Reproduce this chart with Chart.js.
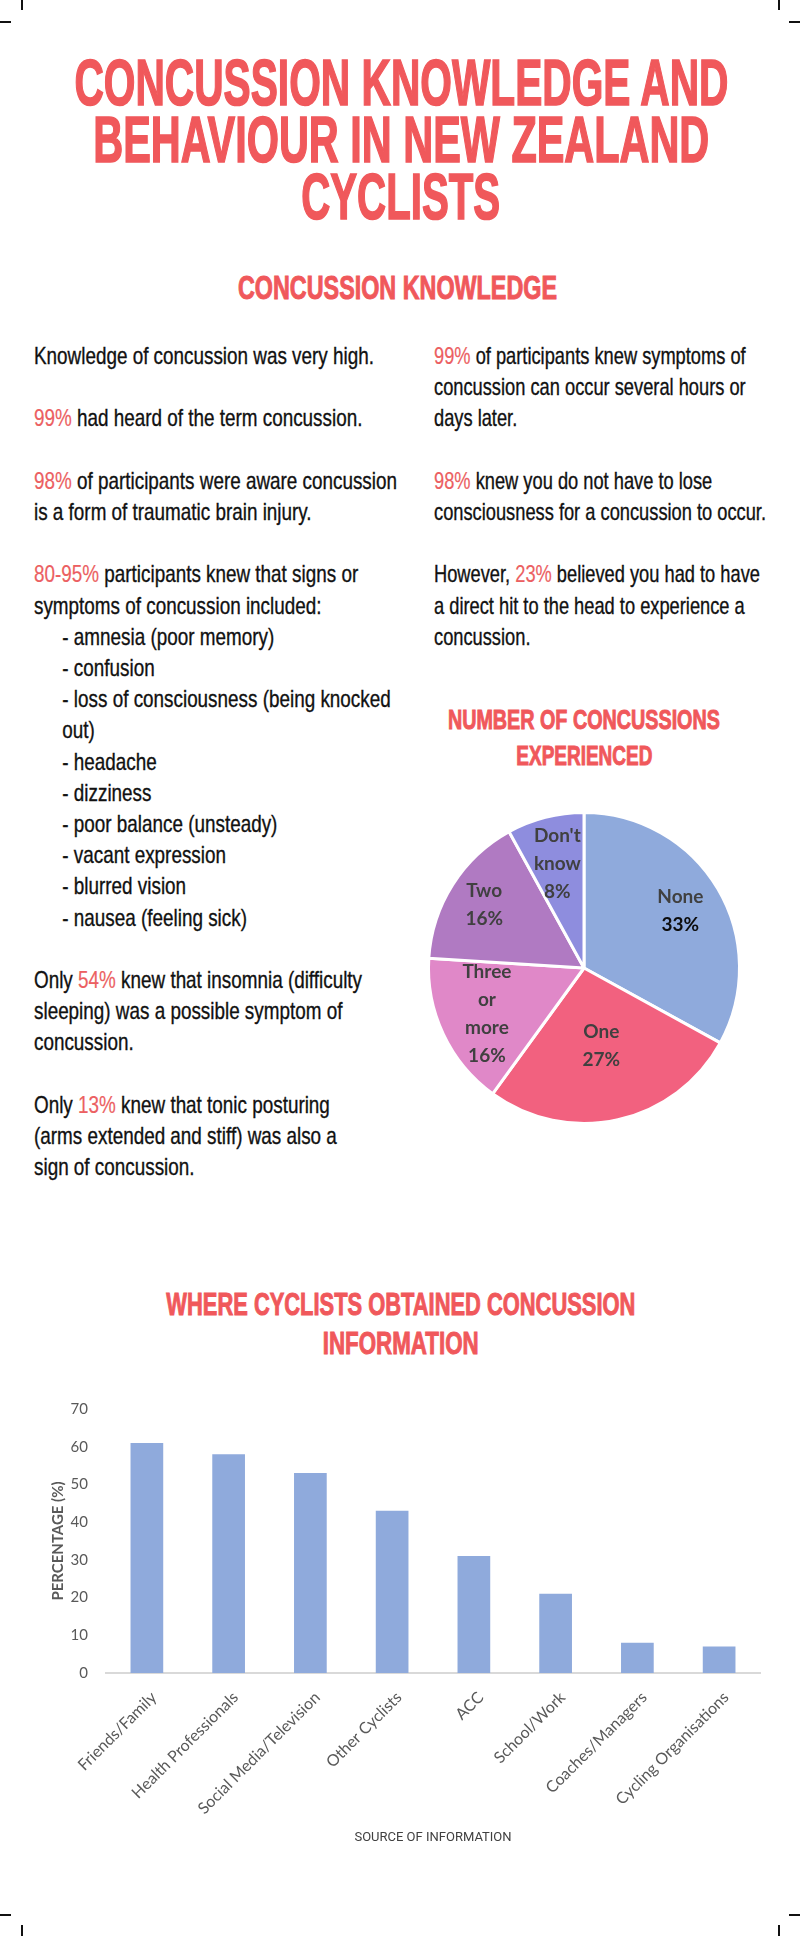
<!DOCTYPE html>
<html>
<head>
<meta charset="utf-8">
<script src="https://cdn.jsdelivr.net/npm/chart.js@4.4.0/dist/chart.umd.min.js"></script>
<style>
  body { margin: 0; width: 800px; height: 1936px; position: relative; background: #fff; overflow: hidden; }
  .mark { position: absolute; background: #111; }
  .head { position: absolute; width: 1600px; text-align: center; font-family: "Liberation Sans", Arial, sans-serif; font-weight: bold; color: #F0585B; white-space: nowrap; -webkit-text-stroke: 1px #F0585B; }
  .head.big { -webkit-text-stroke: 1.6px #F0585B; }
  .head span { display: inline-block; transform-origin: center; }
  .col { position: absolute; font-family: "Liberation Sans", Arial, sans-serif; font-size: 24px; line-height: 31.2px; color: #111; white-space: nowrap; transform-origin: 0 0; -webkit-text-stroke: 0.35px #111; }
  .col .hl { color: #EC5F62; -webkit-text-stroke: 0.2px #EC5F62; }
  .col .li { padding-left: 36px; }
  canvas { position: absolute; }
</style>
</head>
<body>

<div class="mark" style="left:21px;top:0;width:2px;height:10px"></div>
<div class="mark" style="left:0;top:21px;width:11px;height:2px"></div>
<div class="mark" style="left:778px;top:0;width:2px;height:10px"></div>
<div class="mark" style="left:789px;top:21px;width:11px;height:2px"></div>
<div class="mark" style="left:0;top:1914px;width:11px;height:2px"></div>
<div class="mark" style="left:21px;top:1925px;width:2px;height:11px"></div>
<div class="mark" style="left:789px;top:1914px;width:11px;height:2px"></div>
<div class="mark" style="left:778px;top:1925px;width:2px;height:11px"></div>

<div class="head big" style="left:-399px;top:54px;font-size:65px;line-height:57px">
  <div><span data-w="654">CONCUSSION KNOWLEDGE AND</span></div>
  <div><span data-w="616">BEHAVIOUR IN NEW ZEALAND</span></div>
  <div><span data-w="199">CYCLISTS</span></div>
</div>

<div class="head" style="left:-402px;top:268px;font-size:33px;line-height:40px">
  <div><span data-w="319">CONCUSSION KNOWLEDGE</span></div>
</div>

<div class="col" style="left:34px;top:340px" data-w="363" data-ref="refL">
  <div>Knowledge of concussion was very high.</div>
  <div>&nbsp;</div>
  <div><span class="hl">99%</span> had heard of the term concussion.</div>
  <div>&nbsp;</div>
  <div><span id="refL"><span class="hl">98%</span> of participants were aware concussion</span></div>
  <div>is a form of traumatic brain injury.</div>
  <div>&nbsp;</div>
  <div><span class="hl">80-95%</span> participants knew that signs or</div>
  <div>symptoms of concussion included:</div>
  <div class="li">- amnesia (poor memory)</div>
  <div class="li">- confusion</div>
  <div class="li">- loss of consciousness (being knocked</div>
  <div class="li">out)</div>
  <div class="li">- headache</div>
  <div class="li">- dizziness</div>
  <div class="li">- poor balance (unsteady)</div>
  <div class="li">- vacant expression</div>
  <div class="li">- blurred vision</div>
  <div class="li">- nausea (feeling sick)</div>
  <div>&nbsp;</div>
  <div>Only <span class="hl">54%</span> knew that insomnia (difficulty</div>
  <div>sleeping) was a possible symptom of</div>
  <div>concussion.</div>
  <div>&nbsp;</div>
  <div>Only <span class="hl">13%</span> knew that tonic posturing</div>
  <div>(arms extended and stiff) was also a</div>
  <div>sign of concussion.</div>
</div>

<div class="col" style="left:434px;top:340px" data-w="332" data-ref="refR">
  <div><span class="hl">99%</span> of participants knew symptoms of</div>
  <div>concussion can occur several hours or</div>
  <div>days later.</div>
  <div>&nbsp;</div>
  <div><span class="hl">98%</span> knew you do not have to lose</div>
  <div><span id="refR">consciousness for a concussion to occur.</span></div>
  <div>&nbsp;</div>
  <div>However, <span class="hl">23%</span> believed you had to have</div>
  <div>a direct hit to the head to experience a</div>
  <div>concussion.</div>
</div>

<div class="head" style="left:-216px;top:702px;font-size:28px;line-height:36px">
  <div><span data-w="272">NUMBER OF CONCUSSIONS</span></div>
  <div><span data-w="136">EXPERIENCED</span></div>
</div>

<canvas id="pie" width="340" height="340" style="left:414px;top:798px"></canvas>

<div class="head" style="left:-399px;top:1285px;font-size:32px;line-height:39px">
  <div><span data-w="469">WHERE CYCLISTS OBTAINED CONCUSSION</span></div>
  <div><span data-w="156">INFORMATION</span></div>
</div>

<canvas id="bar" width="750" height="468" style="left:30px;top:1382px"></canvas>

<script>
// squeeze headings and text columns to the widths of the condensed poster font
document.querySelectorAll(".head [data-w]").forEach(el => {
  const w = el.getBoundingClientRect().width;
  el.style.transform = `scaleX(${el.dataset.w / w})`;
});
document.querySelectorAll(".col").forEach(col => {
  const w = document.getElementById(col.dataset.ref).getBoundingClientRect().width;
  col.style.transform = `scaleX(${col.dataset.w / w})`;
});

// pie: number of concussions experienced
const pieCategories = ["None", "One", "Three or more", "Two", "Don't know"];
const pieValues = [33, 27, 16, 16, 8];
const pieColors = ["#8FAADC", "#F2617F", "#E088C8", "#B07AC2", "#8E8DDE"];
const pieLabelRadius = [0.72, 0.51, 0.69, 0.76, 0.69];
const pieValueColors = ["#0D0D0D", "#404040", "#404040", "#404040", "#404040"];

// bar: where cyclists obtained concussion information
const sources = ["Friends/Family", "Health Professionals", "Social Media/Television", "Other Cyclists",
  "ACC", "School/Work", "Coaches/Managers", "Cycling Organisations"];
const sourcePercent = [61, 58, 53, 43, 31, 21, 8, 7];
const yTicks = [0, 70, 10]; // min, max, step

const pieLabels = {
  id: "pieLabels",
  afterDatasetsDraw(chart) {
    const ctx = chart.ctx;
    const meta = chart.getDatasetMeta(0);
    ctx.save();
    ctx.font = "bold 19px Lato";
    ctx.textAlign = "center";
    ctx.textBaseline = "middle";
    meta.data.forEach((arc, i) => {
      const mid = (arc.startAngle + arc.endAngle) / 2;
      const r = arc.outerRadius * pieLabelRadius[i];
      const x = arc.x + Math.cos(mid) * r;
      const y = arc.y + Math.sin(mid) * r;
      const lines = pieCategories[i].split(" ");
      lines.push(pieValues[i] + "%");
      const lh = 28;
      let top = y - (lines.length - 1) * lh / 2;
      lines.forEach((t, j) => {
        ctx.fillStyle = j === lines.length - 1 ? pieValueColors[i] : "#404040";
        ctx.fillText(t, x, top + j * lh);
      });
    });
    ctx.restore();
  }
};

new Chart(document.getElementById("pie"), {
  type: "pie",
  data: {
    labels: pieCategories,
    datasets: [{
      data: pieValues,
      backgroundColor: pieColors,
      borderColor: "#fff",
      borderWidth: 3
    }]
  },
  options: {
    responsive: false,
    animation: false,
    layout: { padding: 13 },
    plugins: { legend: { display: false }, tooltip: { enabled: false } }
  },
  plugins: [pieLabels]
});

new Chart(document.getElementById("bar"), {
  type: "bar",
  data: {
    labels: sources,
    datasets: [{
      data: sourcePercent,
      backgroundColor: "#8FAADC",
      categoryPercentage: 1,
      barPercentage: 0.4
    }]
  },
  options: {
    responsive: false,
    animation: false,
    layout: { padding: { top: 0, right: 20, left: 0, bottom: 0 } },
    plugins: { legend: { display: false }, tooltip: { enabled: false } },
    scales: {
      x: {
        grid: { display: false, drawTicks: false },
        border: { display: true, color: "#D9D9D9", width: 2 },
        ticks: {
          minRotation: 45, maxRotation: 45, autoSkip: false, padding: 15, labelOffset: 7,
          font: { family: "Lato", size: 16 }, color: "#595959"
        },
        title: {
          display: true, text: "SOURCE OF INFORMATION",
          font: { family: "Roboto", size: 13 }, color: "#404040",
          padding: { top: 4, bottom: 4 }
        },
        afterFit: s => { s.height = 177; }
      },
      y: {
        min: yTicks[0], max: yTicks[1],
        grid: { display: false, drawTicks: false },
        border: { display: false },
        ticks: { stepSize: yTicks[2], padding: 18, font: { family: "Lato", size: 15 }, color: "#595959" },
        title: {
          display: true, text: "PERCENTAGE (%)",
          font: { family: "Lato", size: 15, weight: "bold" }, color: "#595959",
          padding: { top: 19, bottom: 0 }
        },
        afterFit: s => { s.width = 76; }
      }
    }
  }
});
</script>
</body>
</html>
